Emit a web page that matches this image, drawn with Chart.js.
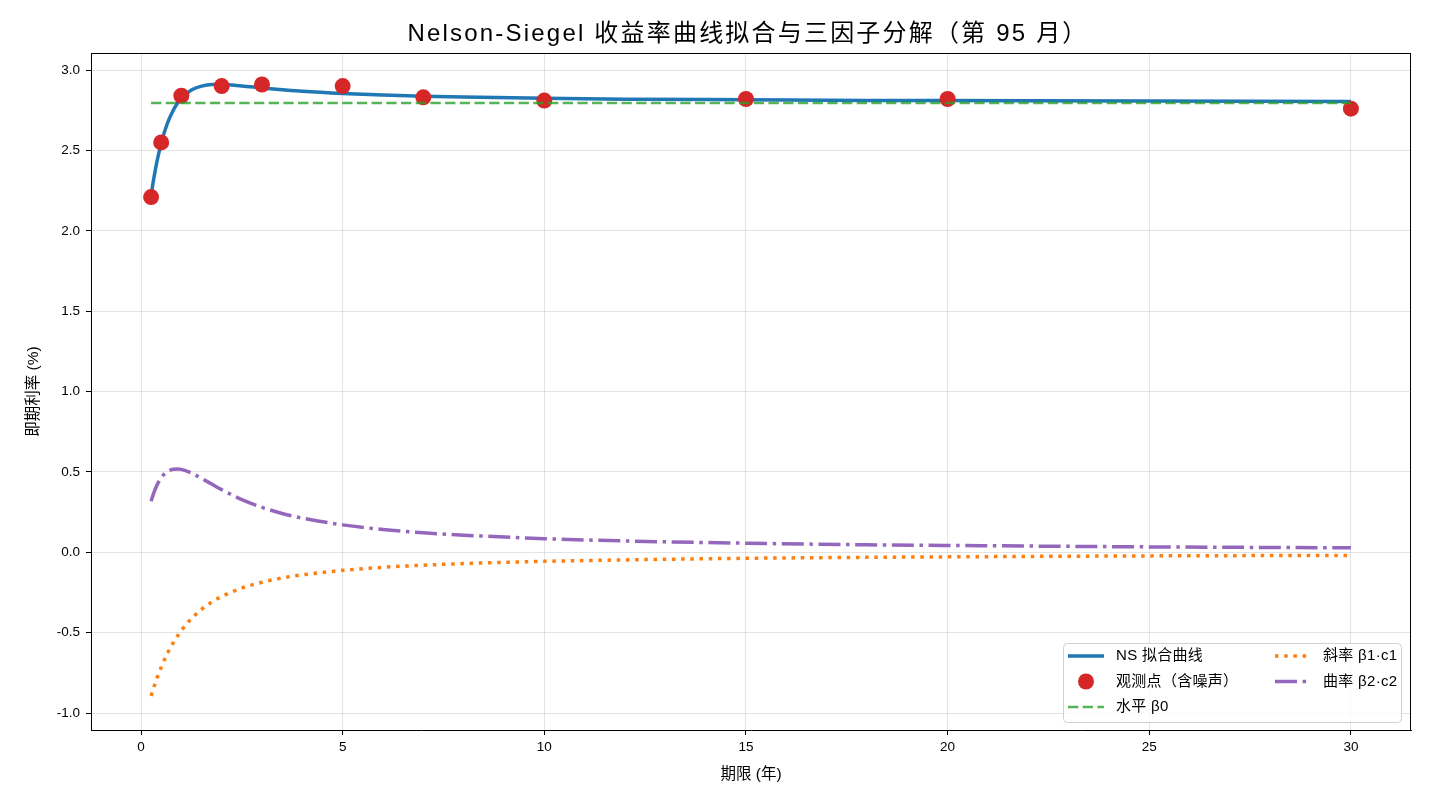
<!DOCTYPE html>
<html>
<head>
<meta charset="utf-8">
<script src="https://cdn.jsdelivr.net/npm/chart.js@4/dist/chart.umd.min.js"></script>
<style>
  html, body { margin: 0; padding: 0; background: #fff; }
  #wrap { width: 1430px; height: 806px; position: relative; }
</style>
</head>
<body>
<div id="wrap"><canvas id="ns" width="1430" height="806"></canvas></div>
<script>
const FONT = '"Liberation Sans", "Noto Sans CJK SC", sans-serif';

// maturities used for the smooth curves (years)
const curveT = [0.25, 0.3, 0.4, 0.5, 0.65, 0.8, 0.9, 1, 1.25, 1.5, 1.75, 2, 2.5, 3, 3.5, 4, 5, 6, 7, 8, 10, 12, 15, 18, 20, 25, 30];
const fitY   = [2.220, 2.300, 2.436, 2.544, 2.666, 2.750, 2.792, 2.825, 2.876, 2.900, 2.910, 2.910, 2.901, 2.889, 2.878, 2.868, 2.854, 2.844, 2.837, 2.832, 2.824, 2.819, 2.815, 2.811, 2.810, 2.807, 2.804];
const slopeY = [-0.893, -0.853, -0.779, -0.715, -0.631, -0.562, -0.522, -0.486, -0.412, -0.355, -0.310, -0.275, -0.222, -0.186, -0.159, -0.140, -0.112, -0.093, -0.080, -0.070, -0.056, -0.047, -0.037, -0.031, -0.028, -0.022, -0.019];
const curvY  = [0.318, 0.358, 0.420, 0.464, 0.502, 0.517, 0.519, 0.516, 0.493, 0.460, 0.425, 0.390, 0.328, 0.280, 0.242, 0.213, 0.171, 0.142, 0.122, 0.107, 0.085, 0.071, 0.057, 0.047, 0.043, 0.034, 0.028];

// observed points
const obsT = [0.25, 0.5, 1, 2, 3, 5, 7, 10, 15, 20, 30];
const obsY = [2.21, 2.55, 2.84, 2.90, 2.91, 2.90, 2.83, 2.81, 2.82, 2.82, 2.76];

// level factor
const levelT = [0.25, 30];
const levelY = [2.795, 2.795];

const xTicks = [0, 5, 10, 15, 20, 25, 30];
const yTicks = [-1.0, -0.5, 0.0, 0.5, 1.0, 1.5, 2.0, 2.5, 3.0];

const pts = (xs, ys) => xs.map((x, i) => ({ x: x, y: ys[i] }));

const COLORS = {
  fit: '#1f77b4', obs: '#d62728', level: 'rgba(44,160,44,0.8)',
  slope: '#ff7f0e', curv: '#9467bd'
};

const titlePlugin = {
  id: 'mplTitle',
  afterDraw(chart) {
    const ctx = chart.ctx;
    const a = chart.chartArea;
    ctx.save();
    ctx.fillStyle = '#000';
    ctx.font = '24px ' + FONT;
    ctx.letterSpacing = '2.2px';
    ctx.textAlign = 'center';
    ctx.textBaseline = 'middle';
    ctx.fillText('Nelson-Siegel 收益率曲线拟合与三因子分解（第 95 月）', 748, 34);
    ctx.letterSpacing = '0px';
    // top and right spines
    ctx.strokeStyle = '#000';
    ctx.lineWidth = 1;
    ctx.beginPath();
    ctx.moveTo(a.left, a.top + 0.5);
    ctx.lineTo(a.right, a.top + 0.5);
    ctx.moveTo(a.right - 0.5, a.top);
    ctx.lineTo(a.right - 0.5, a.bottom);
    ctx.stroke();
    ctx.restore();
  }
};

const legendItems = [
  { text: 'NS 拟合曲线', color: COLORS.fit, dash: [], width: 3.5, col: 0, row: 0 },
  { text: '观测点（含噪声）', color: COLORS.obs, marker: true, col: 0, row: 1 },
  { text: '水平 β0', color: COLORS.level, dash: [10.3, 4.4], width: 2.5, col: 0, row: 2 },
  { text: '斜率 β1·c1', color: COLORS.slope, dash: [3.5, 5.7], width: 3.5, col: 1, row: 0 },
  { text: '曲率 β2·c2', color: COLORS.curv, dash: [22, 5.6, 3.5, 5.6], width: 3.5, col: 1, row: 1 }
];

const legendPlugin = {
  id: 'mplLegend',
  afterDraw(chart) {
    const ctx = chart.ctx;
    const a = chart.chartArea;
    const w = 338, h = 79;
    const x0 = a.right - 10 - w, y0 = a.bottom - 8 - h;
    ctx.save();
    ctx.fillStyle = 'rgba(255,255,255,0.8)';
    ctx.strokeStyle = '#d0d0d0';
    ctx.lineWidth = 1;
    ctx.beginPath();
    ctx.roundRect(x0 + 0.5, y0 + 0.5, w, h, 4);
    ctx.fill();
    ctx.stroke();
    const colX = [x0 + 5, x0 + 212];
    const rowY = [y0 + 13, y0 + 38.5, y0 + 64];
    ctx.font = '15px ' + FONT;
    ctx.letterSpacing = '0.3px';
    ctx.textBaseline = 'middle';
    legendItems.forEach(it => {
      const lx = colX[it.col], ly = rowY[it.row];
      if (it.marker) {
        ctx.fillStyle = it.color;
        ctx.beginPath();
        ctx.arc(lx + 18, ly, 8, 0, Math.PI * 2);
        ctx.fill();
      } else {
        ctx.strokeStyle = it.color;
        ctx.lineWidth = it.width;
        ctx.setLineDash(it.dash);
        ctx.beginPath();
        ctx.moveTo(lx, ly);
        ctx.lineTo(lx + 36, ly);
        ctx.stroke();
        ctx.setLineDash([]);
      }
      ctx.fillStyle = '#000';
      ctx.textAlign = 'left';
      ctx.fillText(it.text, lx + 48, ly);
    });
    ctx.letterSpacing = '0px';
    ctx.restore();
  }
};

new Chart(document.getElementById('ns'), {
  type: 'scatter',
  data: {
    datasets: [
      {
        label: 'NS 拟合曲线', data: pts(curveT, fitY), showLine: true,
        borderColor: COLORS.fit, borderWidth: 3.5, pointRadius: 0,
        cubicInterpolationMode: 'monotone', order: 5
      },
      {
        label: '观测点（含噪声）', data: pts(obsT, obsY),
        backgroundColor: COLORS.obs, borderWidth: 0, pointRadius: 8, order: 4
      },
      {
        label: '水平 β0', data: pts(levelT, levelY), showLine: true,
        borderColor: COLORS.level, borderWidth: 2.5, borderDash: [10.3, 4.4],
        pointRadius: 0, order: 3
      },
      {
        label: '斜率 β1·c1', data: pts(curveT, slopeY), showLine: true,
        borderColor: COLORS.slope, borderWidth: 3.5, borderDash: [3.5, 5.7],
        pointRadius: 0, cubicInterpolationMode: 'monotone', order: 2
      },
      {
        label: '曲率 β2·c2', data: pts(curveT, curvY), showLine: true,
        borderColor: COLORS.curv, borderWidth: 3.5, borderDash: [22, 5.6, 3.5, 5.6],
        pointRadius: 0, cubicInterpolationMode: 'monotone', order: 1
      }
    ]
  },
  options: {
    responsive: false,
    animation: false,
    devicePixelRatio: 1,
    layout: { padding: { left: 20, right: 19, top: 53, bottom: 18 } },
    plugins: { legend: { display: false }, tooltip: { enabled: false }, title: { display: false } },
    scales: {
      x: {
        type: 'linear', min: -1.24, max: 31.49,
        afterBuildTicks: s => { s.ticks = xTicks.map(v => ({ value: v })); },
        afterFit: s => { s.height = 58; },
        grid: { color: 'rgba(176,176,176,0.35)', tickColor: '#000', tickLength: 5, tickWidth: 1 },
        border: { color: '#000', width: 1 },
        ticks: { color: '#000', font: { family: FONT, size: 13.5 }, padding: 4, maxRotation: 0, callback: v => String(v) },
        title: { display: true, text: '期限 (年)', color: '#000', font: { family: FONT, size: 15.5 }, padding: { top: 4, bottom: 4 } }
      },
      y: {
        type: 'linear', min: -1.105, max: 3.106,
        afterBuildTicks: s => { s.ticks = yTicks.map(v => ({ value: v })); },
        afterFit: s => { s.width = 71; },
        grid: { color: 'rgba(176,176,176,0.35)', tickColor: '#000', tickLength: 5, tickWidth: 1 },
        border: { color: '#000', width: 1 },
        ticks: { color: '#000', font: { family: FONT, size: 13.5 }, padding: 6, callback: v => v.toFixed(1) },
        title: { display: true, text: '即期利率 (%)', color: '#000', font: { family: FONT, size: 15.5 }, padding: { top: 4, bottom: 4 } }
      }
    }
  },
  plugins: [titlePlugin, legendPlugin]
});
</script>
</body>
</html>
